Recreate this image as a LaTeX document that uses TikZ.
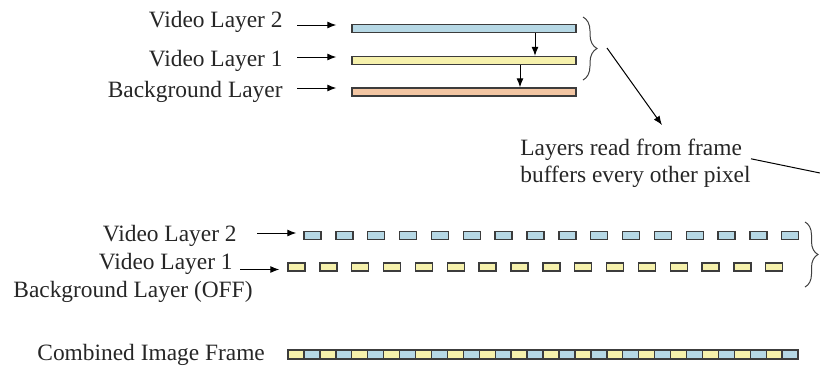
\documentclass[tikz,border=0pt]{standalone}
\usepackage{fontspec}
\setmainfont{Liberation Serif}
\usetikzlibrary{arrows.meta,decorations.pathreplacing}

\definecolor{layerblue}{RGB}{182,216,229}
\definecolor{layeryellow}{RGB}{246,241,172}
\definecolor{layerpeach}{RGB}{243,198,163}
\definecolor{edgegray}{RGB}{60,60,60}

\tikzset{
    lbl/.style={inner sep=0pt, text=black!85, font=\fontsize{11.7}{13.5}\selectfont},
    bar/.style={draw=edgegray, line width=0.7pt, inner sep=0pt, minimum width=112pt, minimum height=4pt},
    pix/.style={draw=edgegray, line width=0.7pt, inner sep=0pt, minimum width=8.5pt, minimum height=4pt},
    seg/.style={draw=edgegray, line width=0.7pt, inner sep=0pt, minimum width=7.97pt, minimum height=4.5pt},
    arr/.style={-{Latex[length=4.5pt,width=3.5pt]}, line width=0.5pt},
    brc/.style={decorate, decoration={brace, amplitude=#1}, line width=0.5pt, draw=black!75},
}

\begin{document}
\begin{tikzpicture}[x=0.5pt, y=-0.5pt]
        \useasboundingbox (0,0) rectangle (820,366);
        % full frame buffers
        \node[bar, fill=layerblue]   (v2) at (464,28.5) {};
        \node[bar, fill=layeryellow] (v1) at (464,60.5) {};
        \node[bar, fill=layerpeach]  (bg) at (464,92)   {};
        \node[lbl, anchor=base east] (l2t) at (283,27)   {Video Layer 2};
        \node[lbl, anchor=base east] (l1t) at (283,66.5) {Video Layer 1};
        \node[lbl, anchor=base east] (bgt) at (283,97)   {Background Layer};
        \draw[arr] ([xshift=7pt,yshift=1pt]l2t.base east)   -- ([xshift=-7.5pt,yshift=1.75pt]v2.west);
        \draw[arr] ([xshift=7pt,yshift=4.75pt]l1t.base east) -- ([xshift=-7.5pt,yshift=1.75pt]v1.west);
        \draw[arr] ([xshift=7pt,yshift=4.5pt]bgt.base east) -- ([xshift=-7.5pt,yshift=2pt]bg.west);
        \draw[arr] ([xshift=35.5pt]v2.south) -- ([xshift=35.5pt]v1.north);
        \draw[arr] ([xshift=28pt]v1.south)   -- ([xshift=28pt]bg.north);

        % brace and note
        \coordinate (bt) at (583,17);
        \coordinate (bb) at (583,80);
        \coordinate (btip) at (607,48);
        \coordinate (nt) at (662,125);
        \draw[brc=7pt] (bt) -- (bb);
        \draw[arr] (btip) -- (nt);
        \node[lbl, anchor=base west, align=left] (note) at (520,182)
            {Layers read from frame\\buffers every other pixel};
        \coordinate (rim) at (820,173);
        \draw[line width=0.5pt] ([yshift=2pt]note.east) -- (rim);

        % every other pixel
        \foreach \i in {0,...,15} {
            \node[pix, fill=layerblue]   (p2-\i) at ({312.5+31.85*\i},235.5) {};
            \node[pix, fill=layeryellow] (p1-\i) at ({296.5+31.85*\i},267)   {};
        }
        \node[lbl, anchor=base east] (l2b) at (237,241.5) {Video Layer 2};
        \node[lbl, anchor=base east] (l1b) at (233,269)   {Video Layer 1};
        \node[lbl, anchor=base west] (bgb) at (13,297)    {Background Layer (OFF)};
        \draw[arr] ([xshift=10pt,yshift=4.25pt]l2b.base east) -- ([xshift=-3.5pt,yshift=1.25pt]p2-0.west);
        \draw[arr] ([xshift=3.5pt,yshift=-0.25pt]l1b.base east) -- ([xshift=-4pt,yshift=-1.25pt]p1-0.west);
        \coordinate (ct) at (805,222);
        \coordinate (cb) at (805,287);
        \draw[brc=6.5pt] (ct) -- (cb);

        % combined frame
        \foreach \i in {0,...,31} {
            \pgfmathsetmacro{\shade}{ifthenelse(mod(\i,2)==0,"layeryellow","layerblue")}
            \node[seg, fill=\shade] (c-\i) at ({295.97+15.94*\i},354.5) {};
        }
        \node[lbl, anchor=base west] (cmb) at (37,360) {Combined Image Frame};
\end{tikzpicture}
\end{document}
